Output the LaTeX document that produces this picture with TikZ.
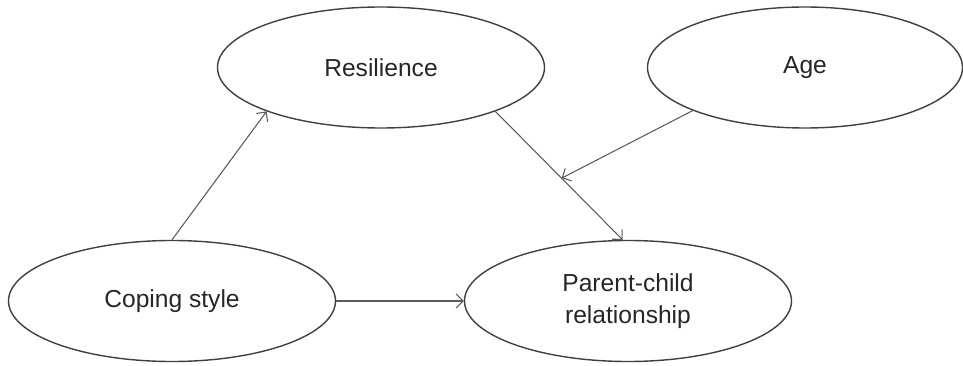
\documentclass[tikz,border=0pt]{standalone}
\usepackage{fontspec}
\setmainfont{Liberation Sans}
\usetikzlibrary{shapes.geometric,arrows.meta}
\begin{document}
\begin{tikzpicture}
		\tikzstyle{every node}=[font=\fontsize{14pt}{18pt}\selectfont, text=black!85]
		\tikzstyle{var}=[ellipse, draw=black!75, line width=0.8pt, inner sep=0pt, minimum width=6.54cm, minimum height=2.42cm, align=center]
		\tikzstyle{link}=[-{Straight Barb[length=1.4mm,width=2.8mm]}, draw=black!65, line width=0.6pt]
		\useasboundingbox (0,0) rectangle (19.26,7.30);
		\node [var] (res) at (7.62,5.95) {Resilience};
		\node [var, minimum width=6.3cm] (age) at (16.10,5.95) {Age};
		\node [var] (cope) at (3.44,1.28) {Coping style};
		\node [var] (pcr) at (12.56,1.28) {Parent-child\\relationship};
		
		\draw [link] (cope.north) -- (res.201);
		\draw [link] (res.-21) -- (pcr.95) coordinate [pos=0.52] (mod);
		\draw [link] (age.201) -- (mod);
		\draw [link] (cope.east) -- (pcr.west);
	\end{tikzpicture}
\end{document}
